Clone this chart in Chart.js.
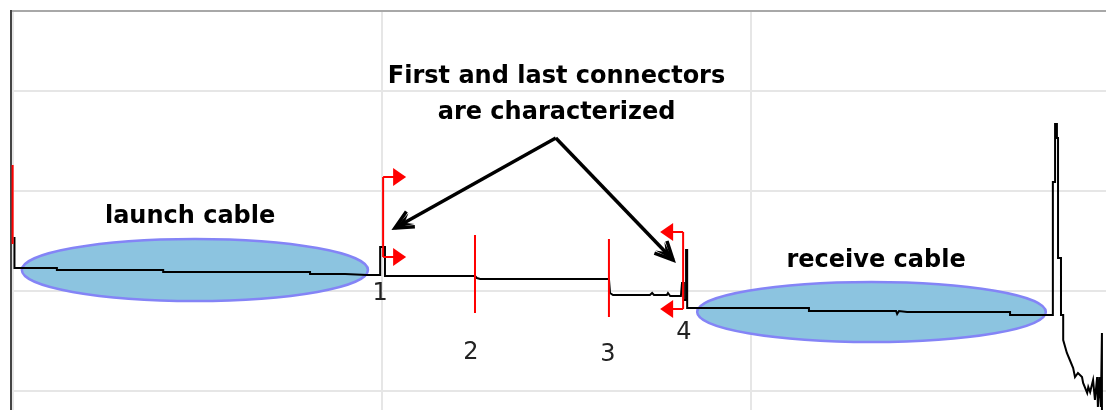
<!DOCTYPE html>
<html>
<head>
<meta charset="utf-8">
<script src="https://cdn.jsdelivr.net/npm/chart.js@4.4.1/dist/chart.umd.min.js"></script>
<style>
  html, body { margin: 0; padding: 0; background: #fff; }
  #wrap { width: 1106px; height: 410px; position: relative; }
</style>
</head>
<body>
<div id="wrap"><canvas id="otdr"></canvas></div>
<script>
// OTDR trace, distance in m, level in dB (5 dB / division, 1000 m / division)
const traceDistance = [4, 4, 119, 119, 407, 407, 805, 805, 900, 959, 995, 995, 1008, 1008,
  1252, 1257, 1266, 1615, 1618, 1626, 1726, 1732, 1737, 1772, 1775, 1781, 1810,
  1813, 1818, 1818, 1824, 1824, 1827, 1827, 2157, 2157, 2393, 2396, 2401, 2423,
  2702, 2702, 2816, 2818, 2818, 2824, 2824, 2829, 2829, 2832, 2832, 2840, 2840,
  2846, 2846, 2856, 2864, 2873, 2878, 2886, 2897, 2900, 2911, 2914, 2919, 2927,
  2932, 2938, 2940, 2946, 2948, 2951, 2951];
const traceLevel = [7.7, 6.15, 6.15, 6.05, 6.05, 5.95, 5.95, 5.85, 5.85, 5.8, 5.8, 7.2, 7.2, 5.75,
  5.75, 5.65, 5.6, 5.6, 4.9, 4.8, 4.8, 4.9, 4.8, 4.8, 4.9, 4.75, 4.75,
  5.4, 5.4, 4.55, 4.55, 7.05, 7.05, 4.15, 4.15, 4.0, 4.0, 3.85, 4.0, 3.95,
  3.95, 3.8, 3.8, 3.9, 10.45, 10.45, 13.35, 13.35, 12.65, 12.65, 6.65, 6.65, 3.8,
  3.8, 2.55, 1.9, 1.55, 1.15, 0.7, 0.9, 0.7, 0.4, -0.1, 0.2, -0.05, 0.55,
  -0.45, 0.7, -0.8, 0.7, -0.8, 2.9, -0.95];

// grid divisions
const gridDistance = [0, 1000, 2000];
const gridLevel = [0, 5, 10, 15];

// event markers (red cursors)
const eventDistance = [-1, 1003, 1252, 1615, 1816];
const eventTop = [11.3, 10.7, 7.8, 7.6, 7.95];
const eventBottom = [7.35, 6.7, 3.9, 3.7, 4.1];
const eventFlag = ['', 'right', '', '', 'left'];

// event numbers
const eventNumbers = ['1', '2', '3', '4'];
const numberDistance = [995, 1241, 1612, 1818];
const numberLevel = [4.85, 1.9, 1.8, 2.9];

// launch / receive cable sections
const sectionNames = ['launch cable', 'receive cable'];
const sectionStart = [24, 1854];
const sectionEnd = [962, 2799];
const sectionLevel = [6.05, 3.95];
const sectionHalfHeight = [1.55, 1.5];
const sectionLabelDistance = [480, 2339];
const sectionLabelLevel = [8.4, 6.2];

// callout
const calloutLines = ['First and last connectors', 'are characterized'];
const calloutDistance = 1473;
const calloutLevel = [15.4, 13.6];
const calloutApex = [1471, 12.65];
const calloutTips = [[1035, 8.15], [1789, 6.55]];

const X_MIN = -5.4, X_MAX = 2962, Y_MIN = -0.95, Y_MAX = 19;
const BOLD = 'bold 24px "DejaVu Sans"';

function arrowHead(ctx, fx, fy, tx, ty) {
  const ang = Math.atan2(ty - fy, tx - fx);
  const len = 20, spread = 0.45;
  ctx.beginPath();
  ctx.moveTo(tx - len * Math.cos(ang - spread), ty - len * Math.sin(ang - spread));
  ctx.lineTo(tx, ty);
  ctx.lineTo(tx - len * Math.cos(ang + spread), ty - len * Math.sin(ang + spread));
  ctx.stroke();
  ctx.beginPath();
  ctx.moveTo(tx, ty);
  ctx.lineTo(tx - len * Math.cos(ang - spread * 0.7), ty - len * Math.sin(ang - spread * 0.7));
  ctx.lineTo(tx - len * 0.55 * Math.cos(ang), ty - len * 0.55 * Math.sin(ang));
  ctx.lineTo(tx - len * Math.cos(ang + spread * 0.7), ty - len * Math.sin(ang + spread * 0.7));
  ctx.closePath();
  ctx.fill();
}

function flag(ctx, px, py, dir) {
  const s = dir === 'left' ? -1 : 1;
  ctx.beginPath();
  ctx.moveTo(px, py);
  ctx.lineTo(px + s * 11, py);
  ctx.stroke();
  ctx.beginPath();
  ctx.moveTo(px + s * 10, py - 9);
  ctx.lineTo(px + s * 23, py);
  ctx.lineTo(px + s * 10, py + 9);
  ctx.closePath();
  ctx.fill();
}

const annotate = {
  id: 'annotate',
  beforeDatasetsDraw(chart) {
    const { ctx, scales: { x, y } } = chart;
    ctx.save();
    for (let i = 0; i < sectionNames.length; i++) {
      const x0 = x.getPixelForValue(sectionStart[i]);
      const x1 = x.getPixelForValue(sectionEnd[i]);
      const yc = y.getPixelForValue(sectionLevel[i]);
      const ry = Math.abs(y.getPixelForValue(sectionLevel[i] + sectionHalfHeight[i]) - yc);
      ctx.beginPath();
      ctx.ellipse((x0 + x1) / 2, yc, (x1 - x0) / 2, ry, 0, 0, Math.PI * 2);
      ctx.fillStyle = '#8cc4e0';
      ctx.fill();
      ctx.lineWidth = 2.5;
      ctx.strokeStyle = '#8484f6';
      ctx.stroke();
    }
    ctx.restore();
  },
  afterDatasetsDraw(chart) {
    const { ctx, scales: { x, y } } = chart;
    ctx.save();

    // red cursor flags
    ctx.strokeStyle = '#ff0000';
    ctx.fillStyle = '#ff0000';
    ctx.lineWidth = 2;
    eventDistance.forEach((d, i) => {
      if (!eventFlag[i]) return;
      const px = x.getPixelForValue(d);
      flag(ctx, px, y.getPixelForValue(eventTop[i]), eventFlag[i]);
      flag(ctx, px, y.getPixelForValue(eventBottom[i]), eventFlag[i]);
    });

    // event numbers
    ctx.fillStyle = '#222';
    ctx.font = '24px "DejaVu Sans"';
    ctx.textAlign = 'center';
    ctx.textBaseline = 'middle';
    eventNumbers.forEach((n, i) => {
      ctx.fillText(n, x.getPixelForValue(numberDistance[i]), y.getPixelForValue(numberLevel[i]));
    });

    // section labels
    ctx.fillStyle = '#000';
    ctx.font = BOLD;
    ctx.textBaseline = 'alphabetic';
    sectionNames.forEach((s, i) => {
      ctx.fillText(s, x.getPixelForValue(sectionLabelDistance[i]), y.getPixelForValue(sectionLabelLevel[i]));
    });

    // callout text and arrows
    calloutLines.forEach((t, i) => {
      ctx.fillText(t, x.getPixelForValue(calloutDistance), y.getPixelForValue(calloutLevel[i]));
    });
    const ax = x.getPixelForValue(calloutApex[0]);
    const ay = y.getPixelForValue(calloutApex[1]);
    ctx.strokeStyle = '#000';
    ctx.lineWidth = 3.5;
    ctx.lineJoin = 'miter';
    calloutTips.forEach(([d, l]) => {
      const tx = x.getPixelForValue(d);
      const ty = y.getPixelForValue(l);
      ctx.beginPath();
      ctx.moveTo(ax, ay);
      ctx.lineTo(tx, ty);
      ctx.stroke();
      arrowHead(ctx, ax, ay, tx, ty);
    });
    ctx.restore();
  }
};

const markerSets = eventDistance.map((d, i) => ({
  data: [{ x: d, y: eventTop[i] }, { x: d, y: eventBottom[i] }],
  showLine: true,
  borderColor: '#ff0000',
  borderWidth: 2,
  pointRadius: 0
}));

const traceSet = {
  data: traceDistance.map((d, i) => ({ x: d, y: traceLevel[i] })),
  showLine: true,
  borderColor: '#000',
  borderWidth: 2,
  pointRadius: 0,
  tension: 0
};

new Chart(document.getElementById('otdr'), {
  type: 'scatter',
  data: { datasets: [...markerSets, traceSet] },
  options: {
    responsive: true,
    maintainAspectRatio: false,
    animation: false,
    layout: { padding: { top: 11, left: 11, right: 0, bottom: 0 } },
    plugins: { legend: { display: false }, tooltip: { enabled: false } },
    scales: {
      x: {
        type: 'linear', min: X_MIN, max: X_MAX,
        afterBuildTicks: (s) => { s.ticks = gridDistance.map(v => ({ value: v })); },
        ticks: { display: false },
        grid: { drawTicks: false, lineWidth: 2, color: '#e6e6e6' },
        border: { display: false }
      },
      x2: {
        type: 'linear', position: 'top', min: X_MIN, max: X_MAX,
        ticks: { display: false },
        grid: { display: false, drawTicks: false },
        border: { display: true, color: '#a8a8a8', width: 2 }
      },
      y: {
        type: 'linear', min: Y_MIN, max: Y_MAX,
        afterBuildTicks: (s) => { s.ticks = gridLevel.map(v => ({ value: v })); },
        ticks: { display: false },
        grid: { drawTicks: false, lineWidth: 2, color: '#e6e6e6' },
        border: { display: true, color: '#444', width: 2 }
      }
    }
  },
  plugins: [annotate]
});
</script>
</body>
</html>
